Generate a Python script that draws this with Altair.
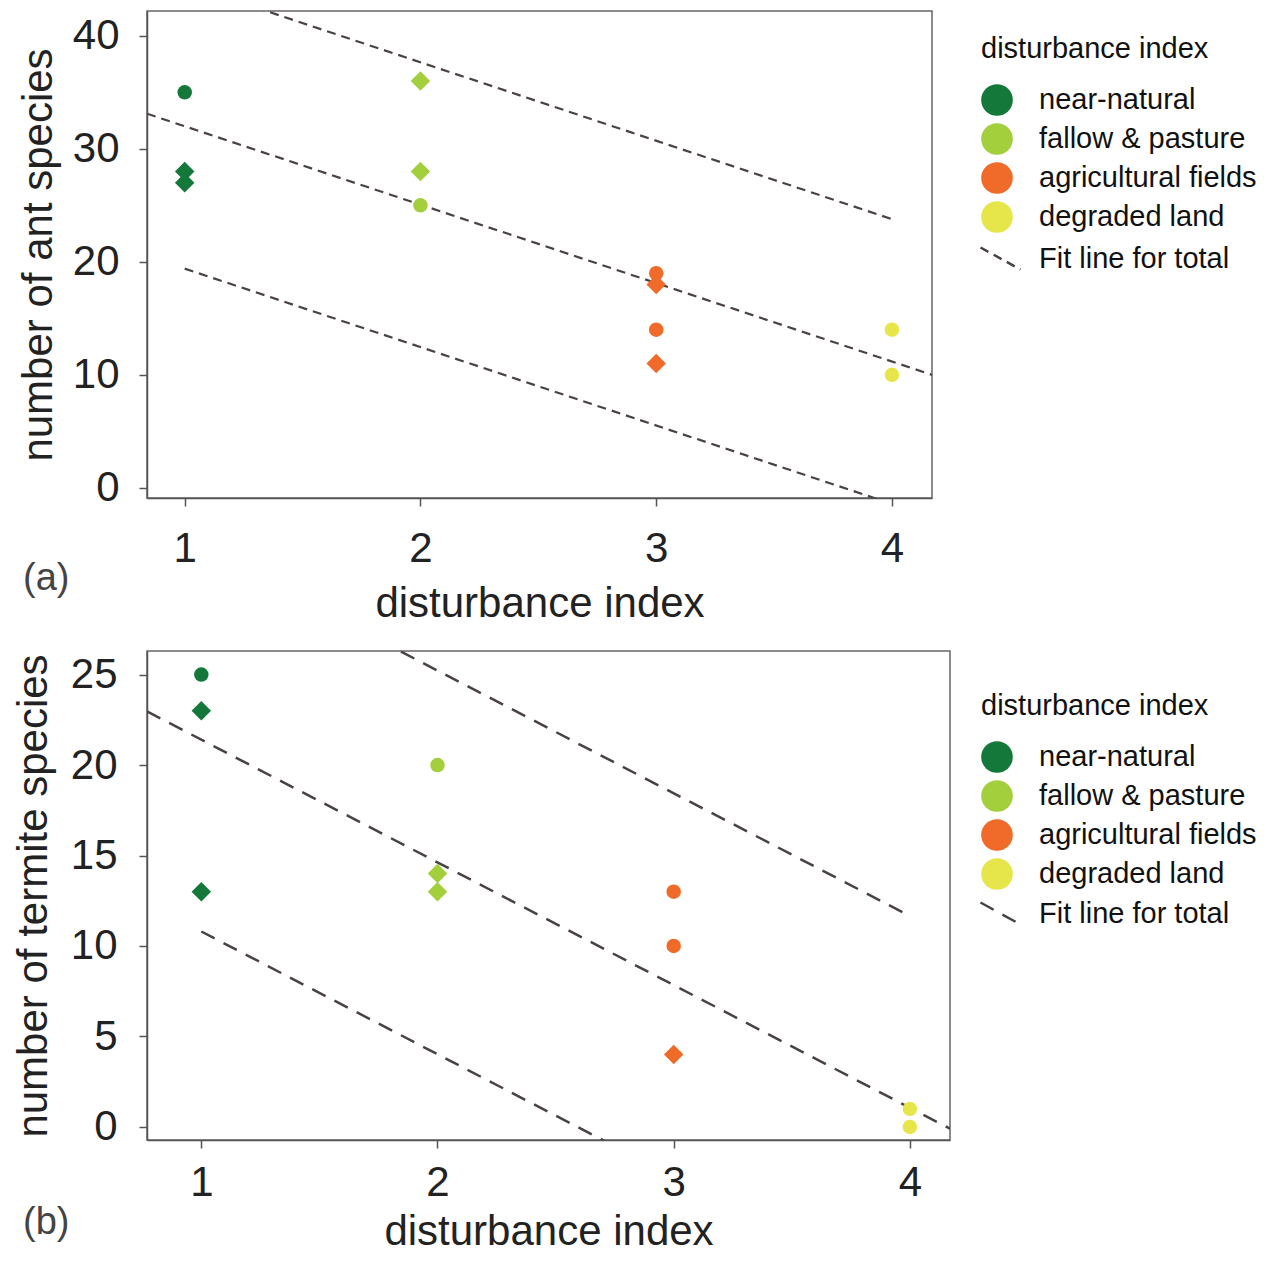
import altair as alt
import pandas as pd

CATEGORIES = ["near-natural", "fallow & pasture", "agricultural fields", "degraded land"]
COLORS = ["#14783a", "#a3cf3c", "#f06a2a", "#e6e64a"]

ANT_X = [1, 1, 1, 2, 2, 2, 3, 3, 3, 3, 4, 4]
ANT_Y = [35, 28, 27, 36, 28, 25, 19, 18, 14, 11, 14, 10]
ANT_SHAPE = ["circle", "diamond", "diamond", "diamond", "diamond", "circle",
             "circle", "diamond", "circle", "diamond", "circle", "circle"]

TERM_X = [1, 1, 1, 2, 2, 2, 3, 3, 3, 4, 4]
TERM_Y = [25, 23, 13, 20, 14, 13, 13, 10, 4, 1, 0]
TERM_SHAPE = ["circle", "diamond", "diamond", "circle", "diamond", "diamond",
              "circle", "circle", "diamond", "circle", "circle"]

# fit line: value at x=1, slope, offset of the outer lines
ANT_FIT = [32.0, -6.94, 12.6]
TERM_FIT = [21.4, -6.78, 10.6]

ANT_YTICKS = [0, 10, 20, 30, 40]
TERM_YTICKS = [0, 5, 10, 15, 20, 25]
XTICKS = [1, 2, 3, 4]

FONT = "Liberation Sans"
LINE_COLOR = "#4a4242"


def panel(xs, ys, shapes, fit, xdom, ydom, yticks, ytitle, tag, w, h,
          dash, dash_w, label_pad, title_pad, x_label_pad, x_title_pad,
          tag_x, tag_y, leg_x, leg_y, dash_leg_dy):
    pts = pd.DataFrame({"x": xs, "y": ys, "shape": shapes,
                        "cat": [CATEGORIES[x - 1] for x in xs]})
    v1, slope, off = fit
    rows = []
    for name, o, x0, x1 in [("mid", 0, xdom[0], xdom[1]),
                            ("upper", off, 1, 4), ("lower", -off, 1, 4)]:
        for xx in (x0, x1):
            rows.append({"x": xx, "y": v1 + o + slope * (xx - 1),
                         "line": name, "fit": "Fit line for total"})
    lines = pd.DataFrame(rows)

    xscale = alt.Scale(domain=xdom, nice=False, zero=False)
    yscale = alt.Scale(domain=ydom, nice=False, zero=False)
    xaxis = alt.Axis(values=XTICKS, format="d", title="disturbance index",
                     labelPadding=x_label_pad, titlePadding=x_title_pad,
                     titleLimit=800)
    yaxis = alt.Axis(values=yticks, format="d", title=ytitle,
                     labelPadding=label_pad, titlePadding=title_pad,
                     titleLimit=800)

    line_layer = alt.Chart(lines).mark_line(
        clip=True, color=LINE_COLOR, strokeWidth=dash_w
    ).encode(
        x=alt.X("x:Q", scale=xscale, axis=xaxis),
        y=alt.Y("y:Q", scale=yscale, axis=yaxis),
        detail="line:N",
        strokeDash=alt.StrokeDash(
            "fit:N",
            scale=alt.Scale(domain=["Fit line for total"], range=[dash]),
            legend=alt.Legend(
                title=None, orient="none", legendX=leg_x - 2,
                legendY=leg_y + dash_leg_dy,
                symbolType="M-1,-0.55L1,0.55", symbolSize=1600,
                symbolStrokeColor=LINE_COLOR, symbolStrokeWidth=2.5,
                symbolDash=[7, 6], labelFontSize=29, labelOffset=17,
                labelFont=FONT, labelColor="#111", labelLimit=400,
            ),
        ),
    )

    point_layer = alt.Chart(pts).mark_point(filled=True, opacity=1).encode(
        x=alt.X("x:Q", scale=xscale),
        y=alt.Y("y:Q", scale=yscale),
        color=alt.Color(
            "cat:N",
            scale=alt.Scale(domain=CATEGORIES, range=COLORS),
            legend=alt.Legend(
                title="disturbance index", orient="none", legendX=leg_x,
                legendY=leg_y, symbolType="circle", symbolSize=1000,
                symbolStrokeWidth=0, symbolOpacity=1, labelFontSize=29,
                titleFontSize=29, titleFontWeight="normal", labelFont=FONT,
                titleFont=FONT, titleColor="#111", labelColor="#111",
                labelOffset=26, rowPadding=7, titlePadding=20,
                labelLimit=400, titleLimit=400,
            ),
        ),
        shape=alt.Shape("shape:N",
                        scale=alt.Scale(domain=["circle", "diamond"],
                                        range=["circle", "diamond"]),
                        legend=None),
        size=alt.Size("shape:N",
                      scale=alt.Scale(domain=["circle", "diamond"],
                                      range=[210, 380]),
                      legend=None),
    )

    tag_layer = alt.Chart(pd.DataFrame({"tag": [tag]})).mark_text(
        fontSize=38, font=FONT, color="#444", align="left", baseline="middle"
    ).encode(text="tag:N", x=alt.value(tag_x), y=alt.value(tag_y))

    return alt.layer(line_layer, point_layer, tag_layer).resolve_scale(
        shape="independent", size="independent"
    ).properties(width=w, height=h)


pa = panel(ANT_X, ANT_Y, ANT_SHAPE, ANT_FIT, [0.84, 4.17], [-0.9, 42.2],
           ANT_YTICKS, "number of ant species", "(a)", 785, 487,
           [9, 6], 2.2, 20, 12, 22, 14, -124, 568, 834, 24, 202)
pb = panel(TERM_X, TERM_Y, TERM_SHAPE, TERM_FIT, [0.77, 4.17], [-0.72, 26.3],
           TERM_YTICKS, "number of termite species", "(b)", 803, 489,
           [15, 10], 2.5, 22, 15, 14, 8, -124, 572, 834, 41, 200)

chart = alt.vconcat(pa, pb, spacing=25).resolve_scale(
    color="independent", strokeDash="independent", x="independent",
    y="independent"
).resolve_legend(color="independent", strokeDash="independent").configure_axis(
    labelFont=FONT, titleFont=FONT, labelFontSize=42, titleFontSize=42,
    titleFontWeight="normal", labelColor="#222", titleColor="#222",
    domainColor="#555", tickColor="#555", tickSize=8, domainWidth=1.5,
    tickWidth=1.5, grid=False
).configure_view(stroke="#666", strokeWidth=1.5).properties(
    padding={"left": 3, "top": 2, "right": 5, "bottom": 2}
)

chart.save("out.html", embed_options={"renderer": "svg", "actions": False})
